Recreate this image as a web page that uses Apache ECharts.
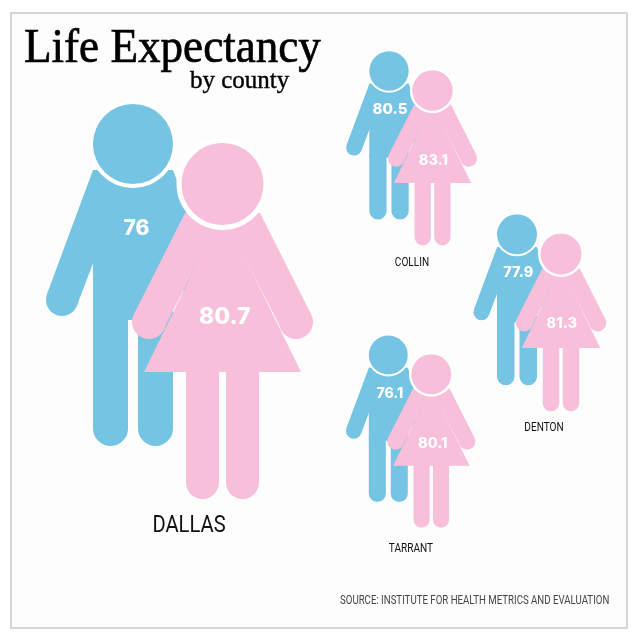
<!DOCTYPE html>
<html>
<head>
<meta charset="utf-8">
<style>html,body{margin:0;background:#fff}#chart{width:635px;height:635px}</style>
<script src="https://cdn.jsdelivr.net/npm/echarts@6/dist/echarts.min.js"></script>
</head>
<body>
<div id="chart"></div>
<script>
// values
const counties = ['DALLAS', 'COLLIN', 'DENTON', 'TARRANT'];
const maleLife = [76, 80.5, 77.9, 76.1];
const femaleLife = [80.7, 83.1, 81.3, 80.1];

// layout of each figure (head centre and size)
const maleX = [133, 389, 517, 388.3];
const maleY = [144, 71, 234.3, 355];
const femaleX = [222.5, 432.5, 561, 431.3];
const femaleY = [184, 90.5, 254, 374.3];
const coupleScale = [1, 0.492, 0.5, 0.487];
const maleLabelPos = [[136.5, 229], [390, 109], [518.3, 273], [389.8, 394]];
const femaleLabelPos = [[224.7, 317], [433.3, 160.5], [561.8, 324], [432.7, 444]];
const countyLabelPos = [[189, 526], [412, 263], [544, 428], [411, 549]];
const maleLabelSize = [21, 15, 14.5, 14];
const femaleLabelSize = [23, 14.5, 14.5, 14.5];
const countyLabelSize = [24, 12, 12, 12];

const BLUE = '#75c4e4';
const PINK = '#f7bfd9';

function poly(points, fill) {
  return { type: 'polygon', shape: { points: points }, style: { fill: fill } };
}
function circle(cx, cy, r, fill) {
  return { type: 'circle', shape: { cx: cx, cy: cy, r: r }, style: { fill: fill } };
}
function leg(x, y, w, h, r, fill) {
  return { type: 'rect', shape: { x: x, y: y, width: w, height: h, r: [0, 0, r, r] }, style: { fill: fill } };
}

function manParts() {
  return [
    poly([[-40, 26], [-86, 150], [-56, 161.6], [-38, 114], [38, 114], [56, 161.6], [86, 150], [40, 26]], BLUE),
    circle(-71, 156, 16, BLUE),
    circle(71, 156, 16, BLUE),
    { type: 'rect', shape: { x: -40, y: 26, width: 80, height: 150 }, style: { fill: BLUE } },
    leg(-40, 170, 35, 132, 17.5, BLUE),
    leg(5, 170, 35, 132, 17.5, BLUE),
    circle(0, 0, 44, '#fff'),
    circle(0, 0, 40, BLUE)
  ];
}

function womanParts() {
  return [
    leg(-36.5, 180, 33, 135, 16.5, PINK),
    leg(3.5, 180, 33, 135, 16.5, PINK),
    // dress, the slit next to each arm only opens below the waist
    poly([[-19.5, 67], [-28.2, 85], [-78.5, 188], [78.5, 188], [28.2, 85], [19.5, 67]], PINK),
    poly([[-37.5, 29], [-88.5, 130], [-59.3, 146], [-19.5, 68], [19.5, 68], [59.3, 146], [88.5, 130], [37.5, 29]], PINK),
    circle(-73.5, 138, 17, PINK),
    circle(73.5, 138, 17, PINK),
    circle(0, 0, 46, '#fff'),
    circle(0, 0, 41, PINK)
  ];
}

function figureSeries(parts, xs, ys) {
  return {
    type: 'custom',
    silent: true,
    data: counties.map((c, i) => [xs[i], ys[i], coupleScale[i]]),
    renderItem: function (params, api) {
      const pos = api.coord([api.value(0), api.value(1)]);
      const s = api.value(2);
      return { type: 'group', x: pos[0], y: pos[1], scaleX: s, scaleY: s, children: parts() };
    }
  };
}

function labelSeries(positions, texts, sizes, color, font, narrow) {
  return {
    type: 'custom',
    silent: true,
    z: 10,
    data: positions.map((p, i) => [p[0], p[1], sizes[i]]),
    renderItem: function (params, api) {
      const pos = api.coord([api.value(0), api.value(1)]);
      return {
        type: 'text',
        x: pos[0],
        y: pos[1],
        scaleX: narrow,
        style: {
          text: String(texts[params.dataIndex]),
          fill: color,
          font: font.replace('SIZE', api.value(2) + 'px'),
          align: 'center',
          verticalAlign: 'middle'
        }
      };
    }
  };
}

const chart = echarts.init(document.getElementById('chart'));
chart.setOption({
  animation: false,
  backgroundColor: '#fff',
  grid: { left: 0, right: 0, top: 0, bottom: 0 },
  xAxis: { type: 'value', min: 0, max: 635, show: false },
  yAxis: { type: 'value', min: 0, max: 635, inverse: true, show: false },
  graphic: [
    { type: 'rect', z: -1, shape: { x: 11, y: 13, width: 616, height: 615 }, style: { fill: '#fdfdfd', stroke: '#d6d6d6', lineWidth: 2 } },
    { type: 'text', x: 24, y: 25, scaleX: 0.94, style: { text: 'Life Expectancy', fill: '#000', stroke: '#000', lineWidth: 0.7, font: '48px "Liberation Serif"' } },
    { type: 'text', x: 190, y: 69, style: { text: 'by county', fill: '#000', stroke: '#000', lineWidth: 0.4, font: '25px "Liberation Serif"' } },
    { type: 'text', x: 340, y: 595, scaleX: 0.805, style: { text: 'SOURCE: INSTITUTE FOR HEALTH METRICS AND EVALUATION', fill: '#444', font: '12px Roboto' } }
  ],
  series: [
    figureSeries(manParts, maleX, maleY),
    figureSeries(womanParts, femaleX, femaleY),
    labelSeries(maleLabelPos, maleLife, maleLabelSize, '#fff', '800 SIZE Inter', 1),
    labelSeries(femaleLabelPos, femaleLife, femaleLabelSize, '#fff', '800 SIZE Inter', 1),
    labelSeries(countyLabelPos, counties, countyLabelSize, '#111', 'SIZE Roboto', 0.84)
  ]
});
</script>
</body>
</html>
